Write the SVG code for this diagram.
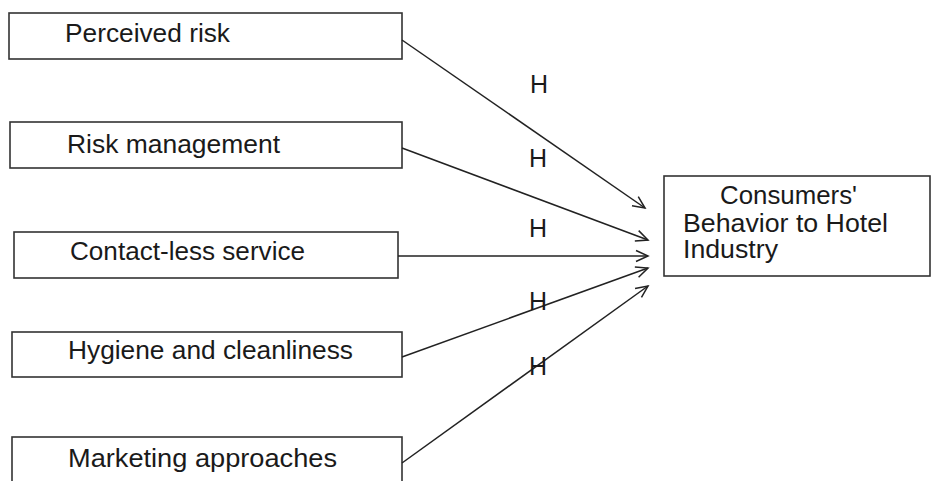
<svg xmlns="http://www.w3.org/2000/svg" width="931" height="481" viewBox="0 0 931 481">
<style>
.box{fill:#fff;stroke:#333;stroke-width:1.6}
.t{font-family:"Liberation Sans",Arial,sans-serif;font-size:25px;fill:#1a1a1a}
.c{stroke:#222;stroke-width:1.5;fill:none;marker-end:url(#arr)}
</style>
<defs>
<marker id="arr" markerUnits="userSpaceOnUse" markerWidth="16" markerHeight="14" refX="13" refY="6" orient="auto" viewBox="0 0 16 12">
<path d="M1,0.5 L13,6 L1,11.5" fill="none" stroke="#222" stroke-width="1.5"/>
</marker>
</defs>
<rect width="931" height="481" fill="#fff"/>
<g id="n1"><rect class="box" x="9" y="13" width="393" height="46"/><text class="t" x="65" y="42" textLength="165" lengthAdjust="spacingAndGlyphs">Perceived risk</text></g>
<g id="n2"><rect class="box" x="10" y="122" width="392" height="46"/><text class="t" x="67" y="153" textLength="213" lengthAdjust="spacingAndGlyphs">Risk management</text></g>
<g id="n3"><rect class="box" x="14" y="232" width="384" height="46"/><text class="t" x="70" y="260" textLength="235" lengthAdjust="spacingAndGlyphs">Contact-less service</text></g>
<g id="n4"><rect class="box" x="12" y="332" width="390" height="45"/><text class="t" x="68" y="359" textLength="285" lengthAdjust="spacingAndGlyphs">Hygiene and cleanliness</text></g>
<g id="n5"><rect class="box" x="12" y="437" width="390" height="50"/><text class="t" x="68" y="467" textLength="269" lengthAdjust="spacingAndGlyphs">Marketing approaches</text></g>
<g id="n6"><rect class="box" x="664" y="176" width="266" height="100"/>
<text class="t" x="720" y="204" textLength="137" lengthAdjust="spacingAndGlyphs">Consumers'</text>
<text class="t" x="683" y="232" textLength="205" lengthAdjust="spacingAndGlyphs">Behavior to Hotel</text>
<text class="t" x="683" y="258" textLength="95" lengthAdjust="spacingAndGlyphs">Industry</text></g>
<g id="connectors">
<line class="c" x1="402" y1="40" x2="645" y2="208"/>
<line class="c" x1="402" y1="148" x2="648" y2="240"/>
<line class="c" x1="398" y1="256" x2="648" y2="256"/>
<line class="c" x1="402" y1="357" x2="648" y2="268"/>
<line class="c" x1="402" y1="463" x2="648" y2="286"/>
</g>
<g id="labels">
<text class="t" x="530" y="93">H</text>
<text class="t" x="529" y="167">H</text>
<text class="t" x="529" y="237">H</text>
<text class="t" x="529" y="310">H</text>
<text class="t" x="529" y="375">H</text>
</g>
</svg>
